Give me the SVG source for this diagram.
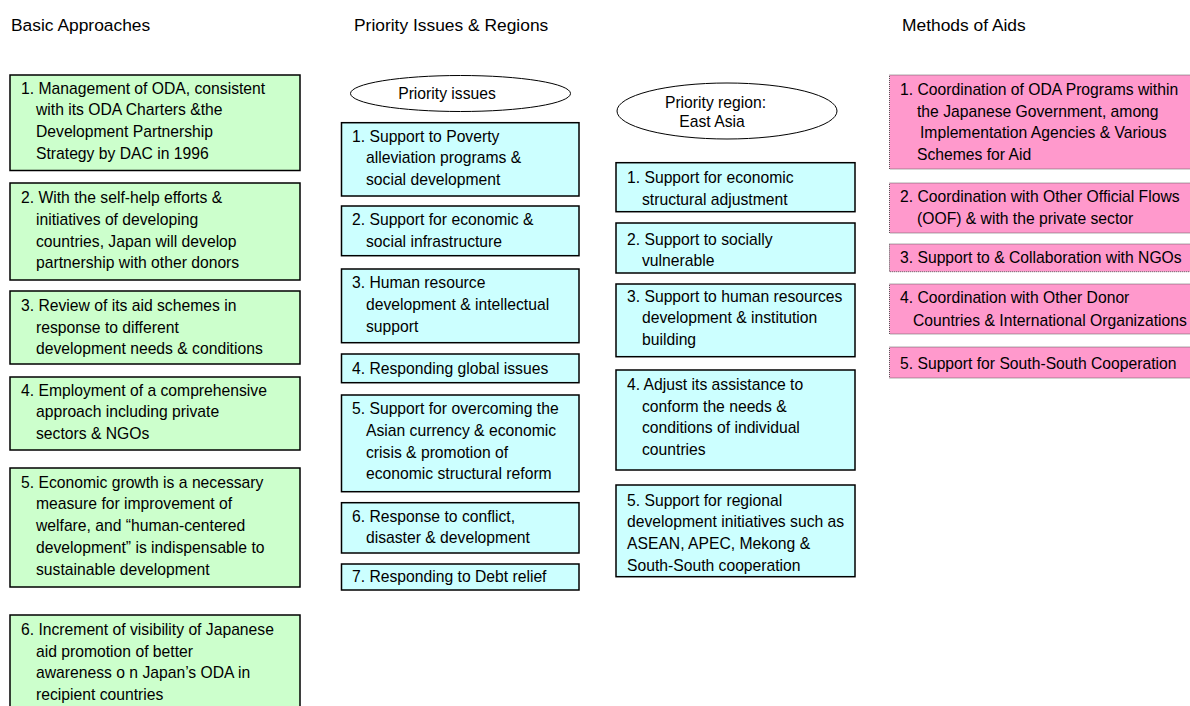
<svg xmlns="http://www.w3.org/2000/svg" width="1190" height="706" viewBox="0 0 1190 706">
<style>
text{font-family:"Liberation Sans",Arial,sans-serif;font-size:15.7px;fill:#000}
.h{font-size:17.4px}
.g{fill:#CCFFCC;stroke:#000;stroke-width:1.5}
.c{fill:#CCFFFF;stroke:#000;stroke-width:1.5}
.p{fill:#FF99CC;stroke:#555;stroke-width:1;stroke-dasharray:1 1}
.e{fill:#fff;stroke:#000;stroke-width:1}
</style>
<rect width="1190" height="706" fill="#fff"/>
<g id="headers">
<text class="h" x="11" y="30.5">Basic Approaches</text>
<text class="h" x="354" y="30.5">Priority Issues &amp; Regions</text>
<text class="h" x="902" y="30.5">Methods of Aids</text>
</g>
<g id="connectors"></g>
<!-- Column 1 -->
<g id="ba1"><rect class="g" x="10" y="75" width="290" height="95.5"/>
<text x="21" y="93.5">1. Management of ODA, consistent</text>
<text x="36" y="115.2">with its ODA Charters &amp;the</text>
<text x="36" y="136.9">Development Partnership</text>
<text x="36" y="158.6">Strategy by DAC in 1996</text></g>
<g id="ba2"><rect class="g" x="10" y="183" width="290" height="97"/>
<text x="21" y="203.3">2. With the self-help efforts &amp;</text>
<text x="36" y="225">initiatives of developing</text>
<text x="36" y="246.7">countries, Japan will develop</text>
<text x="36" y="268.4">partnership with other donors</text></g>
<g id="ba3"><rect class="g" x="10" y="291" width="290" height="73"/>
<text x="21" y="311">3. Review of its aid schemes in</text>
<text x="36" y="332.7">response to different</text>
<text x="36" y="354.4">development needs &amp; conditions</text></g>
<g id="ba4"><rect class="g" x="10" y="377" width="290" height="73"/>
<text x="21" y="395.7">4. Employment of a comprehensive</text>
<text x="36" y="417.4">approach including private</text>
<text x="36" y="439.1">sectors &amp; NGOs</text></g>
<g id="ba5"><rect class="g" x="10" y="468" width="290" height="119"/>
<text x="21" y="487.7">5. Economic growth is a necessary</text>
<text x="36" y="509.4">measure for improvement of</text>
<text x="36" y="531.1">welfare, and “human-centered</text>
<text x="36" y="552.8">development” is indispensable to</text>
<text x="36" y="574.5">sustainable development</text></g>
<g id="ba6"><rect class="g" x="10" y="615" width="290" height="100"/>
<text x="21" y="635">6. Increment of visibility of Japanese</text>
<text x="36" y="656.7">aid promotion of better</text>
<text x="36" y="678.4">awareness o n Japan’s ODA in</text>
<text x="36" y="700.1">recipient countries</text></g>
<!-- Column 2 -->
<g id="pi"><ellipse class="e" cx="460.5" cy="93.5" rx="110" ry="18"/>
<text x="447" y="99" text-anchor="middle">Priority issues</text></g>
<g id="pi1"><rect class="c" x="341.5" y="122.7" width="237.5" height="73.3"/>
<text x="352" y="141.7">1. Support to Poverty</text>
<text x="366" y="163.4">alleviation programs &amp;</text>
<text x="366" y="185.1">social development</text></g>
<g id="pi2"><rect class="c" x="341.5" y="206" width="237.5" height="49.7"/>
<text x="352" y="225">2. Support for economic &amp;</text>
<text x="366" y="246.7">social infrastructure</text></g>
<g id="pi3"><rect class="c" x="341.5" y="269" width="237.5" height="73.7"/>
<text x="352" y="288.3">3. Human resource</text>
<text x="366" y="310">development &amp; intellectual</text>
<text x="366" y="331.7">support</text></g>
<g id="pi4"><rect class="c" x="341.5" y="354" width="237.5" height="28.7"/>
<text x="352" y="374.3">4. Responding global issues</text></g>
<g id="pi5"><rect class="c" x="341.5" y="395" width="237.5" height="96.7"/>
<text x="352" y="414.3">5. Support for overcoming the</text>
<text x="366" y="436">Asian currency &amp; economic</text>
<text x="366" y="457.7">crisis &amp; promotion of</text>
<text x="366" y="479.4">economic structural reform</text></g>
<g id="pi6"><rect class="c" x="341.5" y="502.7" width="237.5" height="50.3"/>
<text x="352" y="521.7">6. Response to conflict,</text>
<text x="366" y="543.4">disaster &amp; development</text></g>
<g id="pi7"><rect class="c" x="341.5" y="564" width="237.5" height="26"/>
<text x="352" y="582">7. Responding to Debt relief</text></g>
<!-- Column 3 -->
<g id="pr"><ellipse class="e" cx="727" cy="111" rx="110" ry="28"/>
<text x="715.5" y="107.5" text-anchor="middle">Priority region:</text>
<text x="712" y="127" text-anchor="middle">East Asia</text></g>
<g id="pr1"><rect class="c" x="616" y="162.7" width="239" height="49"/>
<text x="627" y="183.3">1. Support for economic</text>
<text x="642" y="205">structural adjustment</text></g>
<g id="pr2"><rect class="c" x="616" y="223" width="239" height="50"/>
<text x="627" y="245">2. Support to socially</text>
<text x="642" y="266">vulnerable</text></g>
<g id="pr3"><rect class="c" x="616" y="284" width="239" height="72.7"/>
<text x="627" y="301.7">3. Support to human resources</text>
<text x="642" y="323.4">development &amp; institution</text>
<text x="642" y="345.1">building</text></g>
<g id="pr4"><rect class="c" x="616" y="370" width="239" height="100"/>
<text x="627" y="390">4. Adjust its assistance to</text>
<text x="642" y="411.7">conform the needs &amp;</text>
<text x="642" y="433.4">conditions of individual</text>
<text x="642" y="455.1">countries</text></g>
<g id="pr5"><rect class="c" x="616" y="485" width="239" height="91.7"/>
<text x="627" y="505.7">5. Support for regional</text>
<text x="627" y="527.4">development initiatives such as</text>
<text x="627" y="549.1">ASEAN, APEC, Mekong &amp;</text>
<text x="627" y="570.8">South-South cooperation</text></g>
<!-- Column 4 -->
<g id="ma1"><rect class="p" x="889.5" y="75" width="305" height="94"/>
<text x="900" y="95">1. Coordination of ODA Programs within</text>
<text x="917" y="116.7">the Japanese Government, among</text>
<text x="920" y="138.4">Implementation Agencies &amp; Various</text>
<text x="917" y="160.1">Schemes for Aid</text></g>
<g id="ma2"><rect class="p" x="889.5" y="183" width="305" height="50"/>
<text x="900" y="201.7">2. Coordination with Other Official Flows</text>
<text x="917" y="224">(OOF) &amp; with the private sector</text></g>
<g id="ma3"><rect class="p" x="889.5" y="244" width="305" height="27.7"/>
<text x="900" y="263.3">3. Support to &amp; Collaboration with NGOs</text></g>
<g id="ma4"><rect class="p" x="889.5" y="284" width="305" height="50"/>
<text x="900" y="303.3">4. Coordination with Other Donor</text>
<text x="913" y="325.5">Countries &amp; International Organizations</text></g>
<g id="ma5"><rect class="p" x="889.5" y="347" width="305" height="31"/>
<text x="900" y="369">5. Support for South-South Cooperation</text></g>
</svg>
